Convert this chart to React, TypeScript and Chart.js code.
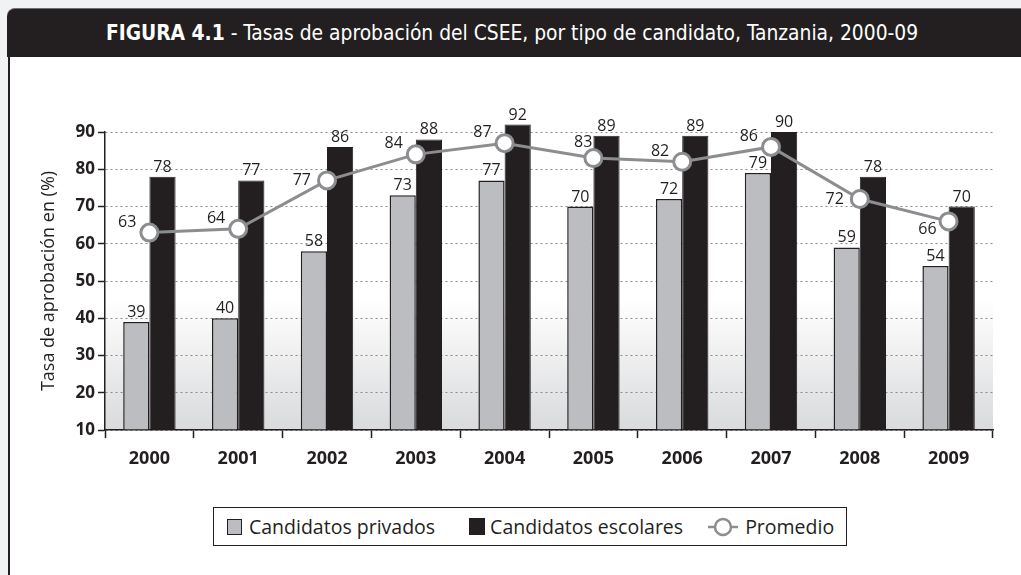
import React, { useEffect, useRef } from "react";
import { Chart, registerables } from "chart.js";

Chart.register(...registerables);

const years = ["2000", "2001", "2002", "2003", "2004", "2005", "2006", "2007", "2008", "2009"];
const privados = [39, 40, 58, 73, 77, 70, 72, 79, 59, 54];
const escolares = [78, 77, 86, 88, 92, 89, 89, 90, 78, 70];
const promedio = [63, 64, 77, 84, 87, 83, 82, 86, 72, 66];
const avgLabelSide = ["nw", "nw", "w", "nw", "nw", "n", "nw", "nw", "w", "sw"];
const yMin = 10;
const yMax = 90;
const yStep = 10;

const DARK = "#231f20";
const GREY = "#bcbdc0";
const LINE = "#8c8d90";
const FONT = "'Open Sans', 'Noto Sans', sans-serif";

const bgPlugin = {
  id: "bgGrad",
  beforeDraw(chart: any) {
    const { ctx, chartArea, scales } = chart;
    const y0 = scales.y.getPixelForValue(45);
    const g = ctx.createLinearGradient(0, y0, 0, chartArea.bottom);
    g.addColorStop(0, "#ffffff");
    g.addColorStop(1, "#d9dadc");
    ctx.save();
    ctx.fillStyle = g;
    ctx.fillRect(chartArea.left, y0, chartArea.right - chartArea.left, chartArea.bottom - y0);
    ctx.restore();
  },
};

const labelPlugin = {
  id: "valueLabels",
  afterDatasetsDraw(chart: any) {
    const { ctx } = chart;
    ctx.save();
    ctx.font = `16px ${FONT}`;
    ctx.fillStyle = DARK;
    ctx.textBaseline = "alphabetic";
    [0, 1].forEach((di) => {
      const meta = chart.getDatasetMeta(di);
      const vals = chart.data.datasets[di].data;
      meta.data.forEach((el: any, i: number) => {
        ctx.textAlign = "center";
        ctx.fillText(String(vals[i]), el.x, el.y - 5);
      });
    });
    const lm = chart.getDatasetMeta(2);
    const lv = chart.data.datasets[2].data;
    lm.data.forEach((el: any, i: number) => {
      const side = avgLabelSide[i];
      ctx.textAlign = "right";
      let dx = -13, dy = -6;
      if (side === "w") { dx = -16; dy = 5; }
      if (side === "sw") { dx = -12; dy = 13; }
      if (side === "n") { dx = -1; dy = -11; }
      ctx.fillText(String(lv[i]), el.x + dx, el.y + dy);
    });
    ctx.restore();
  },
};

function ChartCanvas() {
  const ref = useRef<HTMLCanvasElement | null>(null);
  useEffect(() => {
    if (!ref.current) return;
    const chart = new Chart(ref.current, {
      type: "bar",
      data: {
        labels: years,
        datasets: [
          {
            type: "bar",
            label: "Candidatos privados",
            data: privados,
            base: yMin,
            backgroundColor: GREY,
            borderColor: DARK,
            borderWidth: 1.5,
            categoryPercentage: 0.59,
            barPercentage: 1,
            order: 2,
            clip: false as any,
          } as any,
          {
            type: "bar",
            label: "Candidatos escolares",
            data: escolares,
            base: yMin,
            backgroundColor: DARK,
            borderColor: DARK,
            borderWidth: 1,
            categoryPercentage: 0.59,
            barPercentage: 1,
            order: 2,
            clip: false as any,
          } as any,
          {
            type: "line",
            label: "Promedio",
            data: promedio,
            borderColor: LINE,
            borderWidth: 3,
            pointRadius: 8.5,
            pointBorderWidth: 3,
            pointBackgroundColor: "#ffffff",
            pointBorderColor: LINE,
            order: 0,
            clip: false as any,
          } as any,
        ],
      },
      options: {
        responsive: false,
        animation: false,
        layout: { padding: { left: 0, right: 28, top: 75, bottom: 0 } },
        plugins: { legend: { display: false }, tooltip: { enabled: false } },
        scales: {
          x: {
            offset: true,
            grid: {
              offset: true,
              drawOnChartArea: false,
              tickLength: 8,
              tickColor: DARK,
              tickWidth: 1.5,
            },
            border: { color: DARK, width: 1.5 },
            ticks: { color: DARK, font: { family: FONT, size: 18, weight: "bold" }, padding: 10 },
            afterFit: (s: any) => { s.height = 67; },
          },
          y: {
            min: yMin,
            max: yMax,
            ticks: {
              stepSize: yStep,
              color: DARK,
              font: { family: FONT, size: 17, weight: "bold" },
              padding: 3,
            },
            grid: {
              color: "#8a8a8a",
              lineWidth: 1,
              tickLength: 7,
              tickColor: DARK,
              tickWidth: 1.5,
              tickBorderDash: [],
            },
            border: { color: DARK, width: 1.5, dash: [2, 3] },
            title: {
              display: true,
              text: "Tasa de aprobación en (%)",
              color: DARK,
              font: { family: FONT, size: 18, weight: "normal" },
              padding: { top: 28, bottom: 0 },
            },
            afterFit: (s: any) => { s.width = 95; },
          },
        },
      } as any,
      plugins: [bgPlugin, labelPlugin],
    });
    return () => chart.destroy();
  }, []);
  return <canvas ref={ref} width={1011} height={440} style={{ position: "absolute", left: 10, top: 57, width: 1011, height: 440 }} />;
}

function Legend() {
  const text: React.CSSProperties = { fontFamily: FONT, fontSize: 19.5, color: DARK, whiteSpace: "nowrap", lineHeight: "22px" };
  return (
    <div
      style={{
        position: "absolute",
        left: 213,
        top: 507,
        width: 632,
        height: 37,
        border: `1px solid ${DARK}`,
        background: "#fff",
        display: "flex",
        alignItems: "center",
        boxSizing: "content-box",
      }}
    >
      <div style={{ width: 13, height: 14, background: GREY, border: `1.5px solid ${DARK}`, marginLeft: 13, marginRight: 7 }} />
      <span style={text}>Candidatos privados</span>
      <div style={{ width: 16, height: 17, background: DARK, marginLeft: 34, marginRight: 5 }} />
      <span style={text}>Candidatos escolares</span>
      <svg width={30} height={22} style={{ marginLeft: 25, marginRight: 7 }}>
        <line x1={0} y1={11} x2={30} y2={11} stroke={LINE} strokeWidth={2.5} />
        <circle cx={15} cy={11} r={8} fill="#fff" stroke={LINE} strokeWidth={2.5} />
      </svg>
      <span style={text}>Promedio</span>
    </div>
  );
}

export default function App() {
  return (
    <div style={{ position: "absolute", left: 0, top: 0, width: 1021, height: 575, background: "#f1f2f3", overflow: "hidden" }}>
      <div
        style={{
          position: "absolute",
          left: 7,
          top: 8,
          width: 1020,
          height: 49,
          background: DARK,
          borderTopLeftRadius: 8,
          borderTop: "1px solid #6f6f6f",
          boxSizing: "border-box",
          color: "#fff",
          display: "flex",
          alignItems: "center",
          justifyContent: "center",
          paddingRight: 10,
          fontFamily: "'Liberation Sans Narrow', 'DejaVu Sans Condensed', sans-serif",
          fontSize: 20.8,
          whiteSpace: "nowrap",
        }}
      >
        <span style={{ fontWeight: "bold" }}>FIGURA 4.1</span>
        <span>&nbsp;- Tasas de aprobación del CSEE, por tipo de candidato, Tanzania, 2000-09</span>
      </div>
      <div
        style={{
          position: "absolute",
          left: 8,
          top: 57,
          width: 1013,
          height: 518,
          background: "#fff",
          borderLeft: `2px solid ${DARK}`,
          boxSizing: "border-box",
        }}
      />
      <ChartCanvas />
      <Legend />
    </div>
  );
}
